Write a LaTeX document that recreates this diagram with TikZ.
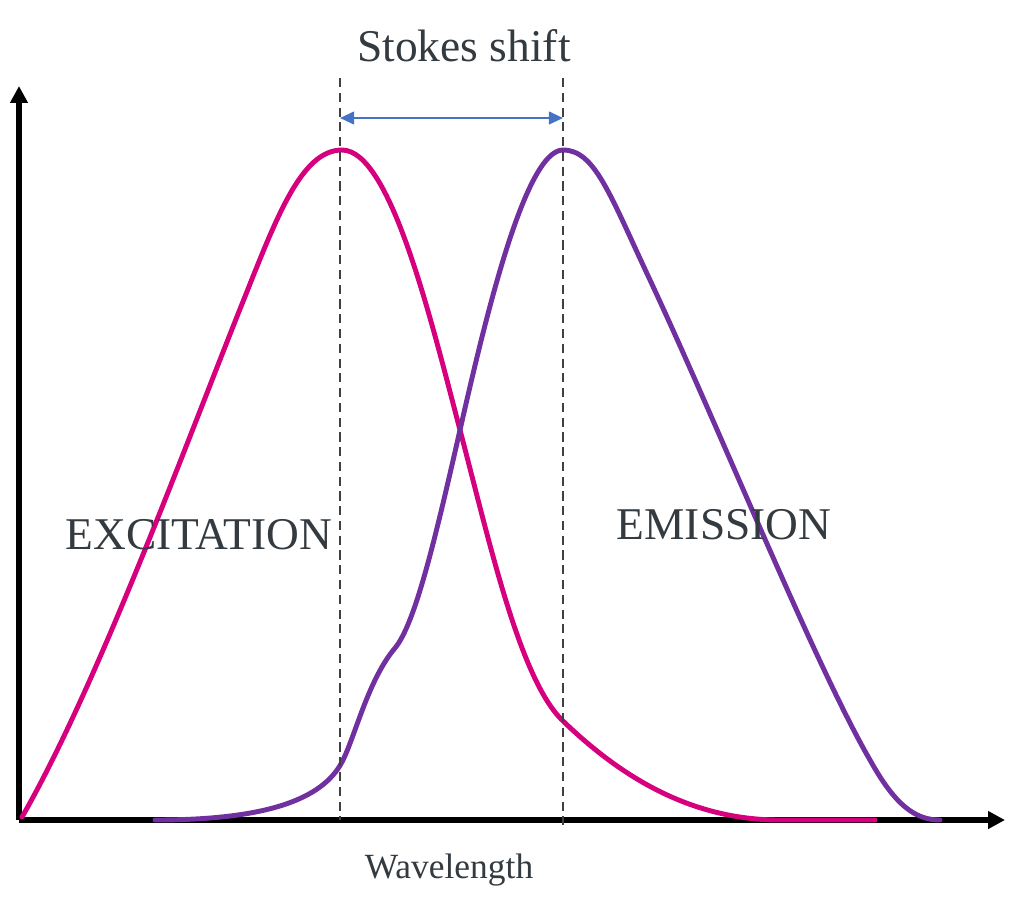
\documentclass[tikz,border=0pt]{standalone}
\usepackage{fontspec}
\setmainfont{Liberation Serif}
\usepackage{xcolor}
\usetikzlibrary{arrows.meta}
\definecolor{excit}{HTML}{D6007E}
\definecolor{emiss}{HTML}{7030A0}
\definecolor{shiftblue}{HTML}{4472C4}
\definecolor{txtgray}{HTML}{333A40}
\definecolor{dashgray}{HTML}{404040}
\tikzstyle{every node}=[font=\fontsize{32.3}{38}\selectfont, text=txtgray, inner sep=0pt]
\tikzstyle{axis}=[line width=3.6pt, -{Triangle[length=12pt,width=12pt]}]
\tikzstyle{spectrum}=[line width=3.5pt, line cap=round, line join=round]
\tikzstyle{peakline}=[dashgray, line width=2.1pt, dash pattern=on 6.5pt off 4pt]

\begin{document}
\begin{tikzpicture}[x=0.025cm, y=-0.025cm]
            \useasboundingbox (0, 0) rectangle (1024, 910);

            % axes
            \coordinate (origin) at (19, 820);
            \coordinate (ytop) at (19, 86);
            \coordinate (xend) at (1005, 820);
            \draw [axis] (origin) -- (ytop);
            \draw [axis] (origin) -- (xend);

            % peaks
            \coordinate (exPeak) at (342, 150);
            \coordinate (emPeak) at (563, 150);
            \coordinate (cross) at (460, 430);
            \coordinate (exTop) at (340, 78);
            \coordinate (exBot) at (340, 820);
            \coordinate (emTop) at (563, 78);
            \coordinate (emBot) at (563, 826);

            \draw [spectrum, excit] (22, 817) .. controls (95, 690) and (180, 460) .. (240, 309)
                .. controls (275, 222) and (300, 150) .. (exPeak)
                .. controls (390, 150) and (430, 316) .. (cross)
                .. controls (490, 544) and (520, 680) .. (563, 721)
                .. controls (620, 776) and (690, 820) .. (780, 820) -- (875, 820);
            \draw [spectrum, emiss] (155, 820) .. controls (265, 820) and (322, 800) .. (342, 762)
                .. controls (355, 737) and (368, 680) .. (395, 648)
                .. controls (415, 624) and (435, 540) .. (cross)
                .. controls (485, 320) and (525, 150) .. (emPeak)
                .. controls (595, 150) and (610, 195) .. (650, 280)
                .. controls (720, 430) and (815, 665) .. (870, 760)
                .. controls (895, 805) and (915, 820) .. (940, 820);

            \draw [peakline] (exTop) -- (exBot);
            \draw [peakline] (emTop) -- (emBot);

            \coordinate (shiftL) at (340, 118);
            \coordinate (shiftR) at (563, 118);
            \draw [shiftblue, line width=1.5pt, {Triangle[length=10pt,width=9pt]}-{Triangle[length=10pt,width=9pt]}] (shiftL) -- (shiftR);

            \node (stokes) [anchor=base] at (464, 61) {Stokes shift};
            \node (excitation) [anchor=base] at (199, 549) {EXCITATION};
            \node (emission) [anchor=base] at (724, 539) {EMISSION};
            \node (wavelength) [anchor=base, font=\fontsize{25.2}{30}\selectfont] at (449, 878) {Wavelength};
        \end{tikzpicture}
\end{document}
